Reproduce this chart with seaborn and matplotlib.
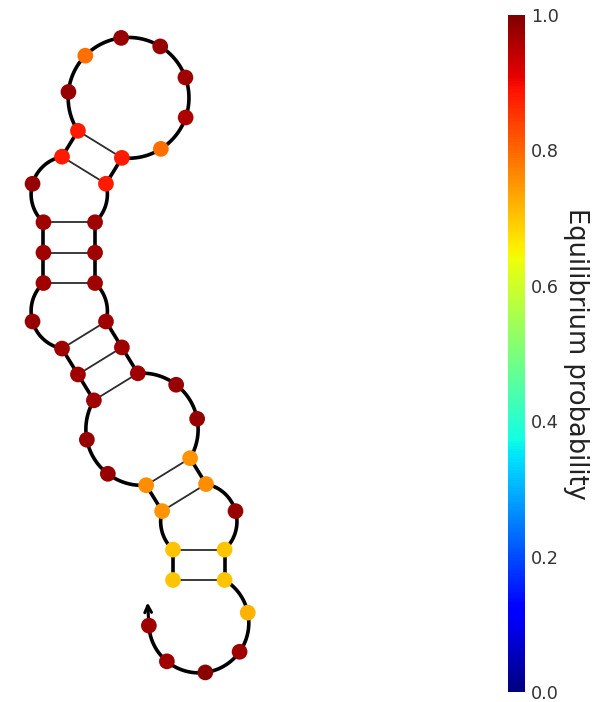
import numpy as np
import pandas as pd
import matplotlib
matplotlib.use("Agg")
import matplotlib.pyplot as plt
from matplotlib.cm import ScalarMappable
from matplotlib.colors import Normalize
import seaborn as sns

# Secondary structure (dot-bracket) and per-nucleotide equilibrium probabilities
structure = "((((..(((.(((.((.......))))))))..)).))....."
probability = [0.70, 0.70, 0.75, 0.76, 0.98, 0.98, 0.97, 0.97, 0.97, 0.98,
               0.97, 0.97, 0.97, 0.98, 0.88, 0.88, 0.98, 0.79, 0.98, 0.98,
               0.97, 0.96, 0.79, 0.88, 0.88, 0.97, 0.97, 0.97, 0.97, 0.97,
               0.97, 0.98, 0.98, 0.75, 0.76, 0.98, 0.70, 0.70, 0.72, 0.97,
               0.99, 0.97, 0.97]
cbar_ticks = [0.0, 0.2, 0.4, 0.6, 0.8, 1.0]
cbar_label = "Equilibrium probability"

# Layout geometry, in units of one backbone step inside a loop
BACKBONE = 1.0
PAIR = 1.29
STACK = 0.76
PX_PER_UNIT = 40.0

JET = matplotlib.colormaps["jet"]

sns.set_style("white")

n = len(structure)
pt = [-1] * n
_open = []
for i, c in enumerate(structure):
    if c == "(":
        _open.append(i)
    elif c == ")":
        j = _open.pop()
        pt[i], pt[j] = j, i


def loop_radius(n_b, n_p):
    """Radius of the circle holding n_b backbone chords and n_p pair chords."""
    f = lambda R: (n_b * 2 * np.arcsin(BACKBONE / (2 * R))
                   + n_p * 2 * np.arcsin(PAIR / (2 * R)) - 2 * np.pi)
    lo, hi = max(BACKBONE, PAIR) / 2 + 1e-12, 100.0
    for _ in range(200):
        mid = 0.5 * (lo + hi)
        if f(mid) > 0:
            lo = mid
        else:
            hi = mid
    return 0.5 * (lo + hi)


def traverse(i, j):
    """Nodes of the loop closed by pair (i, j), walking 5'->3'."""
    seq, kinds = [i], []
    k = i + 1
    seq.append(k)
    kinds.append("B")
    while k != j:
        if pt[k] > k:
            k = pt[k]
            kinds.append("P")
        else:
            k += 1
            kinds.append("B")
        seq.append(k)
    return seq, kinds


pos = np.zeros((n, 2))
arcs = []       # (center, radius, theta_from, theta_to)
straight = []   # (i, j) backbone inside helices
pairs = []      # (i, j) base pairs


def unit(v):
    return v / np.hypot(*v)


def place_loop(seq, kinds, center, R, theta0):
    theta = theta0
    pos[seq[0]] = center + R * np.array([np.cos(theta), np.sin(theta)])
    for idx, kind in enumerate(kinds):
        a, b = seq[idx], seq[idx + 1]
        chord = BACKBONE if kind == "B" else PAIR
        new = theta - 2 * np.arcsin(chord / (2 * R))
        pos[b] = center + R * np.array([np.cos(new), np.sin(new)])
        if kind == "B":
            arcs.append((center.copy(), R, theta, new))
        else:
            grow_helix(a, b, center)
        theta = new


def grow_helix(a, b, parent_center):
    d = unit(0.5 * (pos[a] + pos[b]) - parent_center)
    pairs.append((a, b))
    while pt[a + 1] == b - 1:
        pos[a + 1] = pos[a] + STACK * d
        pos[b - 1] = pos[b] + STACK * d
        straight.append((a, a + 1))
        straight.append((b - 1, b))
        a, b = a + 1, b - 1
        pairs.append((a, b))
    seq, kinds = traverse(a, b)
    R = loop_radius(kinds.count("B"), kinds.count("P") + 1)
    center = 0.5 * (pos[a] + pos[b]) + d * np.sqrt(R ** 2 - (PAIR / 2) ** 2)
    theta0 = np.arctan2(*(pos[a] - center)[::-1])
    place_loop(seq, kinds, center, R, theta0)


# exterior loop: the open gap between the two ends counts as a pair-sized chord
ext_seq, ext_kinds = [0], []
k = 0
while k < n - 1:
    if pt[k] > k:
        k = pt[k]
        ext_kinds.append("P")
    else:
        k += 1
        ext_kinds.append("B")
    ext_seq.append(k)
R0 = loop_radius(ext_kinds.count("B"), ext_kinds.count("P") + 1)
dP0 = 2 * np.arcsin(PAIR / (2 * R0))
place_loop(ext_seq, ext_kinds, np.zeros(2), R0, np.pi / 2 + dP0 / 2)
theta_end = np.arctan2(*pos[n - 1][::-1])

fig = plt.figure(figsize=(6.1, 7.02), dpi=100)
ax = fig.add_axes([0, 0, 1, 1])
x0, y0 = pos[0]
ax.set_xlim(x0 - 173 / PX_PER_UNIT, x0 + (610 - 173) / PX_PER_UNIT)
ax.set_ylim(y0 - (702 - 580) / PX_PER_UNIT, y0 + 580 / PX_PER_UNIT)
ax.axis("off")

# backbone: arcs around loops, straight segments along helices
for c, R, t1, t2 in arcs:
    t = np.linspace(t1, t2, 40)
    ax.plot(c[0] + R * np.cos(t), c[1] + R * np.sin(t), color="black",
            lw=2.6, solid_capstyle="round", zorder=1)
for i, j in straight:
    ax.plot(pos[[i, j], 0], pos[[i, j], 1], color="black", lw=2.6,
            solid_capstyle="round", zorder=1)
# base pairs
for i, j in pairs:
    ax.plot(pos[[i, j], 0], pos[[i, j], 1], color="#2b2b2b", lw=1.3, zorder=1)

# 3' end arrow, continuing the backbone direction
tangent = np.array([np.sin(theta_end), -np.cos(theta_end)])
tip = pos[n - 1] + 0.58 * tangent
ax.annotate("", xy=tip, xytext=pos[n - 1],
            arrowprops=dict(arrowstyle="->", color="black", lw=2.2,
                            mutation_scale=12, shrinkA=0, shrinkB=0),
            zorder=1)

df = pd.DataFrame({"x": pos[:, 0], "y": pos[:, 1], "probability": probability})
sns.scatterplot(data=df, x="x", y="y", hue="probability", palette=JET,
                hue_norm=(0, 1), s=128, linewidth=0, legend=False, ax=ax,
                zorder=3)
ax.set_xlabel("")
ax.set_ylabel("")

cax = fig.add_axes([508 / 610, 10 / 702, 17 / 610, 677 / 702])
sm = ScalarMappable(norm=Normalize(0, 1), cmap=JET)
cb = fig.colorbar(sm, cax=cax, ticks=cbar_ticks)
cb.outline.set_visible(False)
cax.tick_params(length=0, pad=4.5, labelsize=12.7, labelcolor="#333333")
cb.set_label(cbar_label, rotation=270, fontsize=18.5, color="#222222",
             ha="center", va="center")
cax.yaxis.set_label_coords(4.0, 0.5)

fig.savefig("out.png", dpi=100)
